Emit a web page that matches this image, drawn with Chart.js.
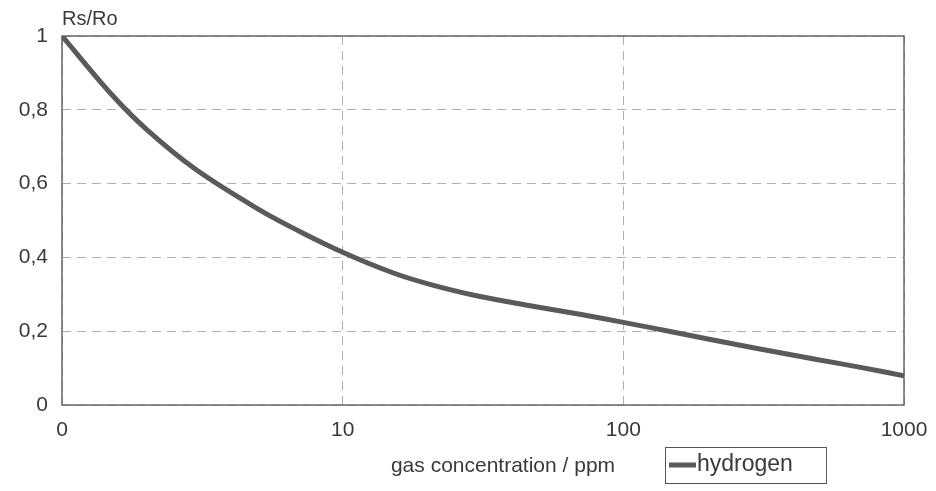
<!DOCTYPE html>
<html>
<head>
<meta charset="utf-8">
<script src="https://cdn.jsdelivr.net/npm/chart.js@4.4.1/dist/chart.umd.min.js"></script>
<style>
  html, body { margin: 0; padding: 0; background: #ffffff; }
  #wrap { width: 936px; height: 491px; }
</style>
</head>
<body>
<div id="wrap"><canvas id="c" width="936" height="491"></canvas></div>
<script>
// ---- data ----
const concentration = [1, 1.5, 2, 3, 5, 7, 10, 15, 20, 30, 50, 70, 100, 150, 200, 300, 500, 700, 1000];
const rsRo = [1.0, 0.842, 0.747, 0.638, 0.531, 0.471, 0.414, 0.359, 0.329, 0.296, 0.265, 0.246, 0.224, 0.198, 0.179, 0.153, 0.122, 0.102, 0.079];
const xTickValues = [1, 10, 100, 1000];
const xTickLabels = ['0', '10', '100', '1000'];
const yTickValues = [0, 0.2, 0.4, 0.6, 0.8, 1];
const yTickLabels = ['0', '0,2', '0,4', '0,6', '0,8', '1'];
const seriesName = 'hydrogen';
const yAxisTitle = 'Rs/Ro';
const xAxisTitle = 'gas concentration / ppm';

const FONT = '"Liberation Sans", Arial, sans-serif';
const TEXT = '#3a3a3a';
const LINE = '#5a5a5a';

const extras = {
  id: 'extras',
  beforeDatasetsDraw(chart) {
    const { ctx, chartArea: a } = chart;
    ctx.save();
    ctx.strokeStyle = '#666666';
    ctx.lineWidth = 1.5;
    ctx.setLineDash([]);
    ctx.strokeRect(a.left, a.top, a.right - a.left, a.bottom - a.top);
    ctx.restore();
  },
  afterDraw(chart) {
    const { ctx, chartArea: a } = chart;
    ctx.save();
    ctx.fillStyle = TEXT;
    ctx.font = '20px ' + FONT;
    ctx.textBaseline = 'alphabetic';
    ctx.textAlign = 'left';
    ctx.fillText(yAxisTitle, a.left, a.top - 11);
    ctx.textAlign = 'center';
    ctx.textBaseline = 'middle';
    ctx.font = '21px ' + FONT;
    ctx.fillText(xAxisTitle, 503, 466);
    // legend box
    ctx.strokeStyle = '#555555';
    ctx.lineWidth = 1;
    ctx.strokeRect(665.5, 447.5, 161, 36);
    ctx.strokeStyle = LINE;
    ctx.lineWidth = 5;
    ctx.beginPath();
    ctx.moveTo(669, 465);
    ctx.lineTo(696, 465);
    ctx.stroke();
    ctx.textAlign = 'left';
    ctx.fillStyle = TEXT;
    ctx.font = '23px ' + FONT;
    ctx.fillText(seriesName, 697, 465);
    ctx.restore();
  }
};

new Chart(document.getElementById('c'), {
  type: 'line',
  data: {
    datasets: [{
      label: seriesName,
      data: concentration.map((x, i) => ({ x: x, y: rsRo[i] })),
      borderColor: LINE,
      borderWidth: 5,
      pointRadius: 0,
      tension: 0.35,
      fill: false
    }]
  },
  options: {
    responsive: false,
    animation: false,
    layout: { padding: { top: 36, right: 32, left: 0, bottom: 0 } },
    plugins: { legend: { display: false }, tooltip: { enabled: false } },
    scales: {
      x: {
        type: 'logarithmic',
        min: 1,
        max: 1000,
        afterBuildTicks(scale) { scale.ticks = xTickValues.map(v => ({ value: v })); },
        afterFit(scale) { scale.height = 86; scale.paddingRight = 0; scale.paddingLeft = 0; },
        ticks: {
          autoSkip: false,
          maxRotation: 0,
          padding: 13,
          color: TEXT,
          font: { family: FONT, size: 21 },
          callback: (v) => { const i = xTickValues.indexOf(v); return i >= 0 ? xTickLabels[i] : ''; }
        },
        grid: { color: '#b0b0b0', lineWidth: 1, drawTicks: false },
        border: { display: false, dash: [9, 6] }
      },
      y: {
        min: 0,
        max: 1,
        afterBuildTicks(scale) { scale.ticks = yTickValues.map(v => ({ value: v })); },
        afterFit(scale) { scale.width = 62; scale.paddingTop = 0; scale.paddingBottom = 0; },
        ticks: {
          padding: 14,
          color: TEXT,
          font: { family: FONT, size: 21 },
          callback: (v) => { const i = yTickValues.findIndex(t => Math.abs(t - v) < 1e-9); return i >= 0 ? yTickLabels[i] : ''; }
        },
        grid: { color: '#b0b0b0', lineWidth: 1, drawTicks: false },
        border: { display: false, dash: [9, 6] }
      }
    }
  },
  plugins: [extras]
});
</script>
</body>
</html>
